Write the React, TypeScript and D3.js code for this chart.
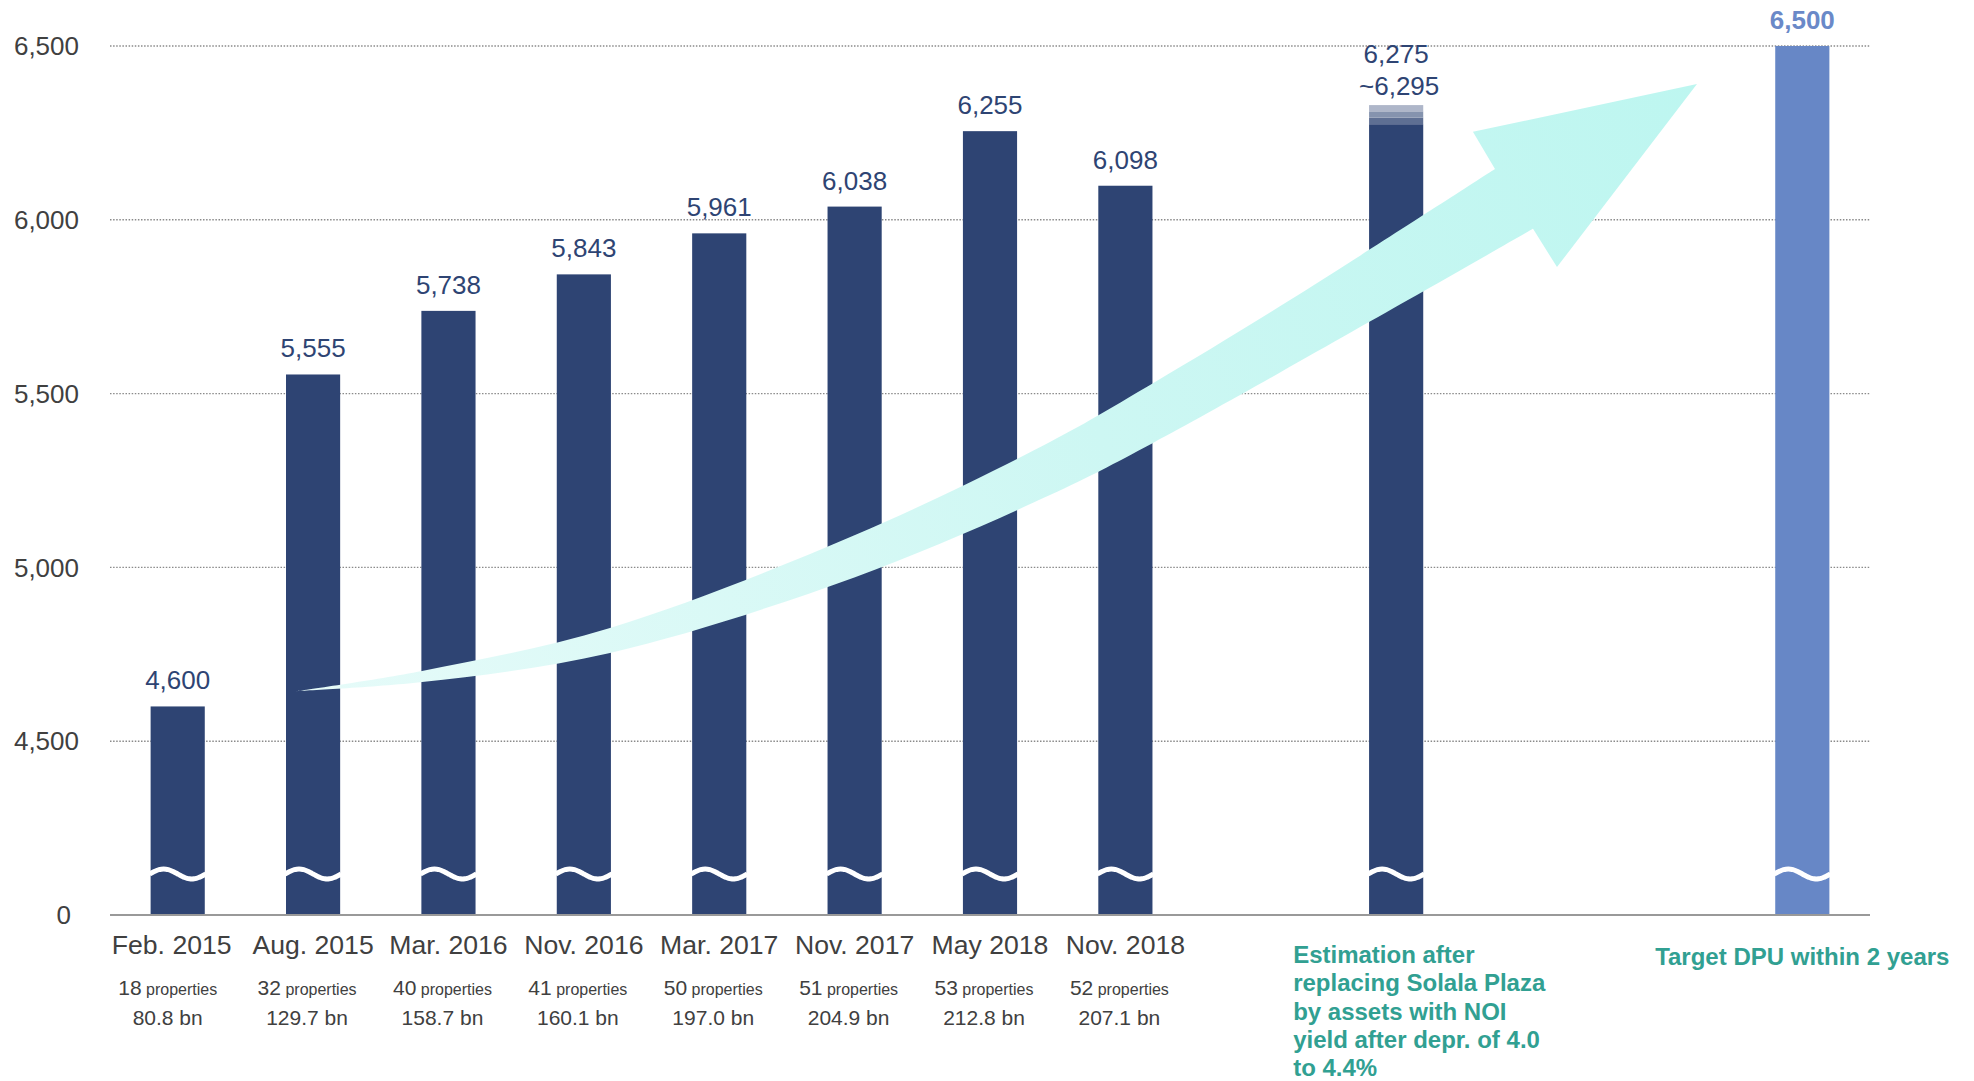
import React, { useEffect } from "react";
import * as d3 from "d3";

// ---- data ----
const periods = ["Feb. 2015", "Aug. 2015", "Mar. 2016", "Nov. 2016", "Mar. 2017", "Nov. 2017", "May 2018", "Nov. 2018"];
const dpuValues = [4600, 5555, 5738, 5843, 5961, 6038, 6255, 6098];
const propertyCounts = [18, 32, 40, 41, 50, 51, 53, 52];
const assetSizes = ["80.8", "129.7", "158.7", "160.1", "197.0", "204.9", "212.8", "207.1"];
const actualSlots = [0, 1, 2, 3, 4, 5, 6, 7];
const estimationSlot = 9;
const targetSlot = 12;
const estimationLow = 6275;
const estimationHigh = 6295;
const estimationBands = [6275, 6294, 6312, 6330];
const targetValue = 6500;
const yTicks = [4500, 5000, 5500, 6000, 6500];
const floorValue = 4000;
const floorLabel = "0";
const estimationNote = [
  "Estimation after",
  "replacing Solala Plaza",
  "by assets with NOI",
  "yield after depr. of 4.0",
  "to 4.4%",
];
const targetNote = "Target DPU within 2 years";
// arrow outline in (slot, value) space
const arrowUpper: [number, number][] = [
  [0.88, 4644], [1.805, 4702], [3.193, 4826], [5.003, 5093],
  [6.443, 5361], [7.204, 5530], [8.216, 5769], [9.73, 6146],
];
const arrowHead: [number, number][] = [
  [9.567, 6253], [11.222, 6391], [10.188, 5864], [10.011, 5974],
];
const arrowLower: [number, number][] = [
  [10.011, 5974], [9.087, 5769], [7.204, 5358], [6.443, 5208], [5.003, 4972],
  [3.193, 4754], [1.805, 4670], [0.88, 4644],
];

// ---- styles ----
const W = 1974, H = 1081;
const FONT = "Arial, 'Liberation Sans', Helvetica, sans-serif";
const BAR = "#2E4473";
const TARGET = "#6787C6";
const TARGET_TEXT = "#6A89C8";
const BAND_COLORS = ["#5E6F93", "#8593AE", "#AEB6C9"];
const TEAL = "#31A092";
const GRAY_TEXT = "#404040";

export default function App() {
  useEffect(() => {
    document.body.style.margin = "0";
    document.body.style.overflow = "hidden";
  }, []);

  const slotDomain = d3.range(13).map(String);
  const x = d3.scaleBand<string>().domain(slotDomain).range([110, 1870]).paddingInner(0.6).paddingOuter(0.3);
  const xc = d3.scaleLinear().domain([-0.5, 12.5]).range([110, 1870]);
  const y = d3.scaleLinear().domain([floorValue, 6500]).range([915, 46]);
  const bw = x.bandwidth();
  const base = y(floorValue);
  const fmt = d3.format(",");

  const waveY = base - 41;
  const wave = (x0: number) => {
    const pts: [number, number][] = d3.range(0, 25).map((i) => {
      const t = i / 24;
      return [x0 - 1 + t * (bw + 2), waveY - 5 * Math.sin(2 * Math.PI * t)];
    });
    return d3.line().curve(d3.curveCatmullRom)(pts) as string;
  };

  const toPx = (p: [number, number]): [number, number] => [xc(p[0]), y(p[1])];
  const up = d3.line().curve(d3.curveCatmullRom)(arrowUpper.map(toPx)) as string;
  const lo = d3.line().curve(d3.curveCatmullRom)(arrowLower.map(toPx)) as string;
  const head = arrowHead.map(toPx).map((p) => `L${p[0]},${p[1]}`).join("");
  const arrowPath = up + head + lo.replace(/^M/, "L") + "Z";

  const allBarSlots = [...actualSlots, estimationSlot, targetSlot];
  const subShift = -6;

  return (
    <svg width={W} height={H} style={{ position: "absolute", left: 0, top: 0, background: "#fff" }} fontFamily={FONT}>
      <defs>
        <linearGradient id="arrowGrad" gradientUnits="userSpaceOnUse" x1={xc(0.88)} y1={y(4644)} x2={xc(11.222)} y2={y(6391)}>
          <stop offset="0" stopColor="#E6FBF9" />
          <stop offset="0.55" stopColor="#CDF7F3" />
          <stop offset="1" stopColor="#BDF6F0" />
        </linearGradient>
      </defs>

      {/* gridlines */}
      {yTicks.map((t) => (
        <line key={t} x1={110} x2={1870} y1={y(t)} y2={y(t)} stroke="#8a8a8a" strokeWidth={1.4} strokeDasharray="1.5 1.6" />
      ))}
      {/* y tick labels */}
      {yTicks.map((t) => (
        <text key={"l" + t} x={79} y={y(t)} dy="0.35em" textAnchor="end" fontSize={26} fill={GRAY_TEXT}>
          {fmt(t)}
        </text>
      ))}
      <text x={71} y={base} dy="0.35em" textAnchor="end" fontSize={26} fill={GRAY_TEXT}>{floorLabel}</text>

      {/* actual bars */}
      {actualSlots.map((s, i) => (
        <rect key={"b" + s} x={x(String(s))} y={y(dpuValues[i])} width={bw} height={base - y(dpuValues[i])} fill={BAR} />
      ))}
      {/* estimation bar */}
      <rect x={x(String(estimationSlot))} y={y(estimationBands[0])} width={bw} height={base - y(estimationBands[0])} fill={BAR} />
      {estimationBands.slice(1).map((v, i) => (
        <rect key={"e" + i} x={x(String(estimationSlot))} y={y(v)} width={bw} height={y(estimationBands[i]) - y(v)} fill={BAND_COLORS[i]} />
      ))}
      {/* target bar */}
      <rect x={x(String(targetSlot))} y={y(targetValue)} width={bw} height={base - y(targetValue)} fill={TARGET} />

      {/* break waves */}
      {allBarSlots.map((s) => (
        <path key={"w" + s} d={wave(x(String(s)) as number)} fill="none" stroke="#fff" strokeWidth={5} />
      ))}

      {/* axis baseline */}
      <line x1={110} x2={1870} y1={base} y2={base} stroke="#999" strokeWidth={2} />

      {/* growth arrow */}
      <path d={arrowPath} fill="url(#arrowGrad)" />

      {/* value labels */}
      {actualSlots.map((s, i) => (
        <text key={"v" + s} x={xc(s)} y={y(dpuValues[i]) - 17} textAnchor="middle" fontSize={26} fill={BAR}>
          {fmt(dpuValues[i])}
        </text>
      ))}
      <text x={xc(estimationSlot)} y={63} textAnchor="middle" fontSize={26} fill={BAR}>{fmt(estimationLow)}</text>
      <text x={xc(estimationSlot) + 3} y={95} textAnchor="middle" fontSize={26} fill={BAR}>{"~" + fmt(estimationHigh)}</text>
      <text x={xc(targetSlot)} y={y(targetValue) - 17} textAnchor="middle" fontSize={26} fontWeight="bold" fill={TARGET_TEXT}>
        {fmt(targetValue)}
      </text>

      {/* category labels */}
      {actualSlots.map((s, i) => (
        <g key={"c" + s}>
          <text x={xc(s) + (i === 0 ? -6 : 0)} y={954} textAnchor="middle" fontSize={26.6} fill={GRAY_TEXT}>{periods[i]}</text>
          <text x={xc(s) + subShift + (i === 0 ? -4 : 0)} y={995} textAnchor="middle" fill={GRAY_TEXT}>
            <tspan fontSize={21}>{propertyCounts[i]}</tspan>
            <tspan fontSize={16}>{" properties"}</tspan>
          </text>
          <text x={xc(s) + subShift + (i === 0 ? -4 : 0)} y={1025} textAnchor="middle" fontSize={21} fill={GRAY_TEXT}>{assetSizes[i] + " bn"}</text>
        </g>
      ))}
      <text x={xc(estimationSlot) - 103} y={963} fontSize={24} fontWeight="bold" fill={TEAL}>
        {estimationNote.map((line, i) => (
          <tspan key={i} x={xc(estimationSlot) - 103} dy={i === 0 ? 0 : 28.3}>{line}</tspan>
        ))}
      </text>
      <text x={xc(targetSlot)} y={965} textAnchor="middle" fontSize={24} fontWeight="bold" fill={TEAL}>{targetNote}</text>
    </svg>
  );
}
